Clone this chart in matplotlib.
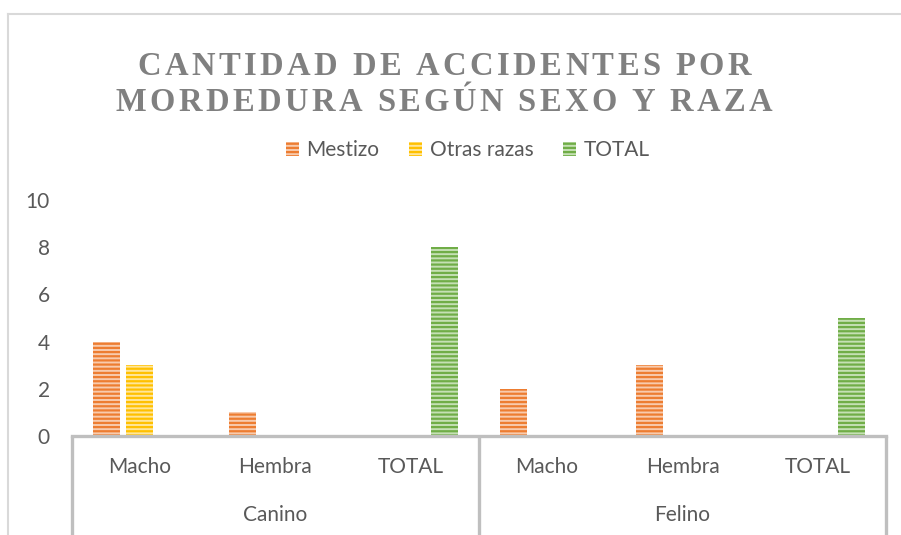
import matplotlib
matplotlib.use("Agg")
import matplotlib.pyplot as plt
from matplotlib.patches import Patch
from matplotlib.lines import Line2D

# datos
grupos = ["Canino", "Felino"]
sexos = ["Macho", "Hembra", "TOTAL"]
series = ["Mestizo", "Otras razas", "TOTAL"]
mestizo = [4, 1, 0, 2, 3, 0]
otras = [3, 0, 0, 0, 0, 0]
total = [0, 0, 8, 0, 0, 5]
y_ticks = [0, 2, 4, 6, 8, 10]

colores = ["#ED7D31", "#FFC000", "#70AD47"]
claros = ["#F8CBAD", "#FFE699", "#C5E0B4"]
gris = "#595959"
fs = 15

plt.rcParams["font.family"] = ["Lato", "DejaVu Sans"]
plt.rcParams["hatch.linewidth"] = 1.6

W, H = 901, 535
fig = plt.figure(figsize=(W / 100, H / 100), dpi=100)
ax = fig.add_axes([72 / W, 1 - 436 / H, (886 - 72) / W, 236 / H])

xs = list(range(6))
off = 0.243
bw = 0.2
for i, vals in enumerate([mestizo, otras, total]):
    pos = [x + (i - 1) * off for x in xs]
    ax.bar(pos, vals, width=bw, facecolor=claros[i], edgecolor=colores[i],
           hatch="----", linewidth=0)

ax.set_xlim(-0.5, 5.5)
ax.set_ylim(0, 10)
ax.set_yticks(y_ticks)
ax.set_yticklabels([str(v) for v in y_ticks], fontsize=fs, color=gris)
ax.tick_params(axis="y", length=0, pad=16)
ax.set_xticks([])
for s in ax.spines.values():
    s.set_visible(False)
ax.axhline(0, color="#BFBFBF", lw=2.4, clip_on=False, zorder=3)

tr = ax.get_xaxis_transform()
for xv in [-0.5, 2.5, 5.5]:
    ax.plot([xv, xv], [0, -0.42 if xv == 5.5 else -0.5], transform=tr,
            color="#BFBFBF", lw=2.4, clip_on=False, solid_capstyle="butt")
for k, x in enumerate(xs):
    ax.text(x, -0.131, sexos[k % 3], transform=tr, ha="center", va="center",
            fontsize=fs, color=gris)
for g, nombre in enumerate(grupos):
    ax.text(1 + 3 * g, -0.335, nombre, transform=tr, ha="center",
            va="center", fontsize=fs, color=gris)

# borde del grafico
fig.add_artist(Line2D([8 / W, 8 / W], [0, 1 - 14 / H], color="#D9D9D9", lw=1.5))
fig.add_artist(Line2D([8 / W, 1], [1 - 14 / H, 1 - 14 / H], color="#D9D9D9", lw=1.5))

# titulo con espaciado entre letras
fig.canvas.draw()
renderer = fig.canvas.get_renderer()


def titulo_espaciado(linea, y_px, size, gap, space_w, xc=444):
    items = []
    for ch in linea:
        if ch == " ":
            items.append((None, space_w))
        else:
            t = fig.text(0, 1 - y_px / H, ch, fontsize=size, fontweight="bold",
                         family="Liberation Serif", color="#808080",
                         ha="left", va="baseline")
            items.append((t, t.get_window_extent(renderer).width))
    ancho = sum(w for _, w in items) + gap * (len(items) - 1)
    x = xc - ancho / 2
    for t, w in items:
        if t is not None:
            t.set_x(x / W)
        x += w + gap


titulo_espaciado("CANTIDAD DE ACCIDENTES POR", 75, 23.5, 3.4, 8)
titulo_espaciado("MORDEDURA SEGÚN SEXO Y RAZA", 111, 23.5, 3.4, 8)

handles = [Patch(facecolor=claros[i], edgecolor=colores[i], hatch="----",
                 linewidth=0) for i in range(3)]
fig.legend(handles, series, loc="center", bbox_to_anchor=(0.519, 1 - 150 / H),
           ncol=3, frameon=False, fontsize=fs, labelcolor=gris,
           handlelength=0.65, handleheight=0.65, handletextpad=0.35,
           columnspacing=1.4)

fig.savefig("out.png", dpi=100)
